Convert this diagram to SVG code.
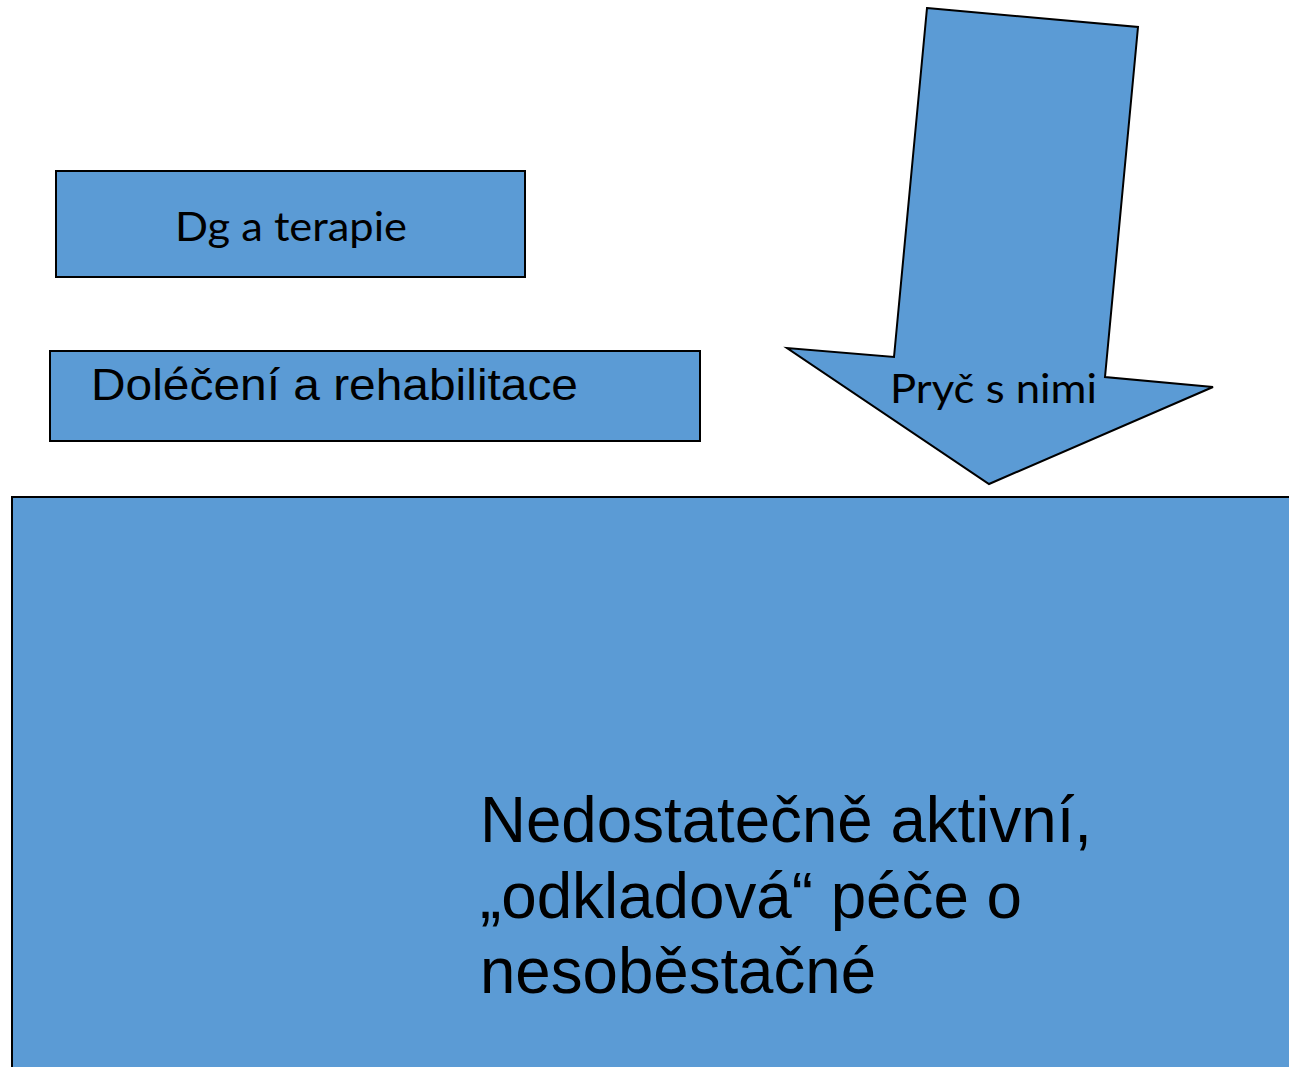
<svg xmlns="http://www.w3.org/2000/svg" width="1289" height="1067" viewBox="0 0 1289 1067">
<style>
.shape{fill:#5B9BD5;stroke:#000;stroke-width:2}
.cal{font-family:Lato,"Open Sans","Noto Sans",sans-serif;fill:#000}
.ari{font-family:"Liberation Sans",Arial,sans-serif;fill:#000}
</style>
<rect width="1289" height="1067" fill="#fff"/>
<g id="node-dg">
<rect class="shape" x="56" y="171" width="469" height="106"/>
<text class="cal" x="175" y="241" font-size="40" textLength="232" lengthAdjust="spacingAndGlyphs">Dg a terapie</text>
</g>
<g id="node-dolecení">
<rect class="shape" x="50" y="351" width="650" height="90"/>
<text class="ari" x="91" y="400" font-size="44" textLength="487" lengthAdjust="spacingAndGlyphs">Doléčení a rehabilitace</text>
</g>
<g id="node-big">
<rect class="shape" x="12" y="497" width="1290" height="590"/>
<text class="ari" x="480" y="842" font-size="64" textLength="612" lengthAdjust="spacingAndGlyphs">Nedostatečně aktivní,</text>
<text class="ari" x="480" y="918" font-size="64" textLength="542" lengthAdjust="spacingAndGlyphs">„odkladová“ péče o</text>
<text class="ari" x="480" y="993" font-size="64" textLength="396" lengthAdjust="spacingAndGlyphs">nesoběstačné</text>
</g>
<g id="node-arrow">
<polygon class="shape" points="927,8 1138,27 1105,377 1213,387 989,484 787,348 894,357"/>
<text class="cal" x="890" y="403" font-size="40" textLength="207" lengthAdjust="spacingAndGlyphs">Pryč s nimi</text>
</g>
<g id="connectors"></g>
</svg>
